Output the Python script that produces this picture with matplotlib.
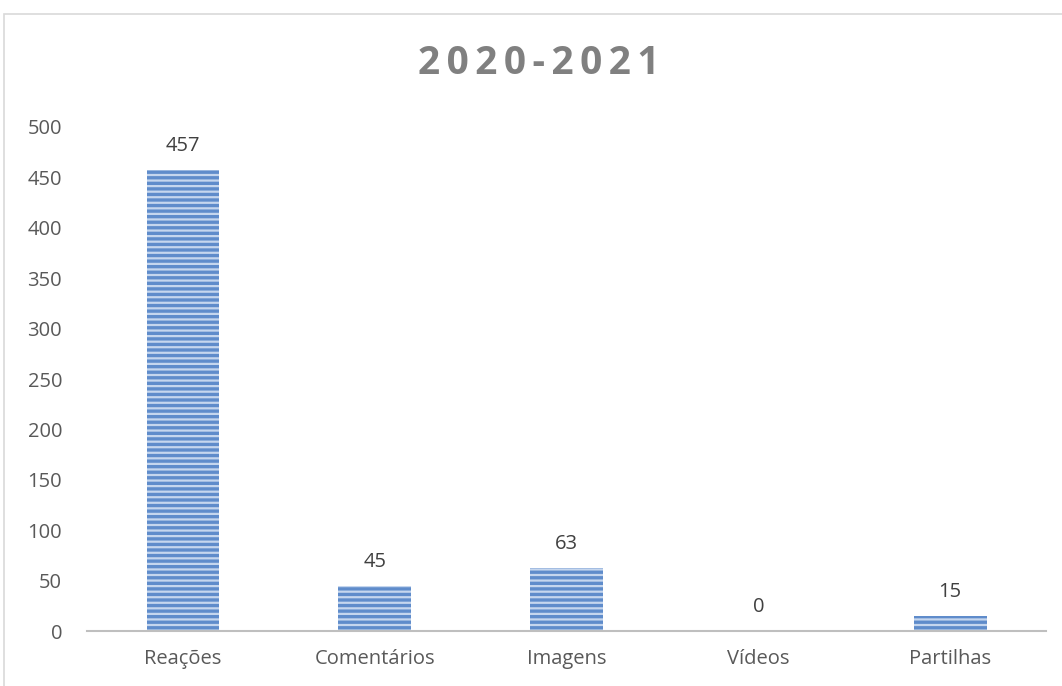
import matplotlib
matplotlib.use('Agg')
import matplotlib.pyplot as plt
from matplotlib.patches import Rectangle

categorias = ['Reações', 'Comentários', 'Imagens', 'Vídeos', 'Partilhas']
valores = [457, 45, 63, 0, 15]
yticks = [0, 50, 100, 150, 200, 250, 300, 350, 400, 450, 500]
titulo = '2020-2021'

plt.rcParams['font.family'] = ['Open Sans', 'DejaVu Sans']
plt.rcParams['hatch.linewidth'] = 1.6
plt.rcParams['hatch.color'] = '#C5D6EE'

fig = plt.figure(figsize=(10.62, 6.86), dpi=100)
ax = fig.add_axes([0.082, 0.080, 0.903, 0.735])

# chart border (cropped at right/bottom as in the original)
fig.patches.append(Rectangle((0.004, -0.05), 1.1, 0.03 + 1 - 14/686 + 0.02, transform=fig.transFigure,
                             fill=False, edgecolor='#D9D9D9', lw=1.2))

x = range(len(categorias))
bars = ax.bar(x, valores, width=0.38, color='#5F8CCB', hatch='---', edgecolor='#C5D6EE', linewidth=0)

for b, v in zip(bars, valores):
    ax.annotate(str(v), (b.get_x() + b.get_width() / 2, v), xytext=(0, 10),
                textcoords='offset points', ha='center', va='bottom', fontsize=14.5, color='#404040')

ax.set_xlim(-0.5, len(categorias) - 0.5)
ax.set_ylim(0, 500)
ax.set_yticks(yticks)
ax.set_xticks(list(x))
ax.set_xticklabels(categorias)
ax.tick_params(axis='both', length=0, labelsize=14.5, labelcolor='#595959')
ax.tick_params(axis='y', pad=18)
ax.tick_params(axis='x', pad=13)
for s in ['top', 'right', 'left']:
    ax.spines[s].set_visible(False)
ax.spines['bottom'].set_color('#BFBFBF')
ax.spines['bottom'].set_linewidth(1.5)

# letter-spaced title
fig.text(0.507, 0.907, '\u2006'.join(titulo), ha='center', va='center', fontsize=28,
         fontweight='bold', color='#808080')

fig.savefig('out.png', dpi=100)
